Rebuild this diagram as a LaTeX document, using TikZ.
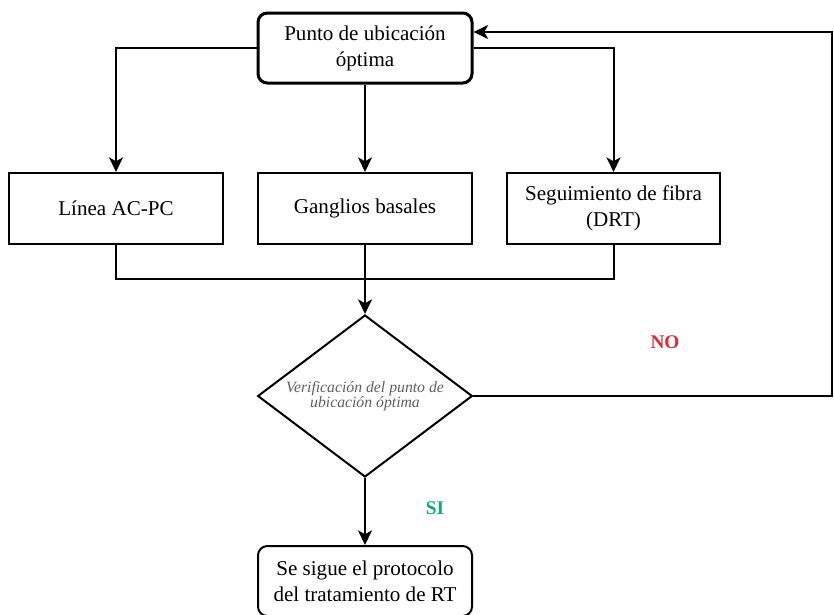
\documentclass[tikz,border=0pt]{standalone}
\usepackage{fontspec}
\setmainfont{Liberation Serif}
\usepackage{tikz}
\usetikzlibrary{arrows.meta, positioning, shapes.geometric, calc}
\definecolor{rojono}{RGB}{214, 45, 60}
\definecolor{verdesi}{RGB}{20, 165, 130}
\definecolor{grisdiam}{RGB}{95, 95, 95}

\begin{document}
\begin{tikzpicture}[x=0.75pt, y=-0.75pt, font=\fontsize{15.8}{19.5}\selectfont,
  caja/.style={draw, line width=1.5pt, minimum width=160.5pt, minimum height=53.25pt, align=center, inner sep=2pt},
  cajaredonda/.style={caja, rounded corners=7pt},
  decision/.style={draw, diamond, aspect=1.33, line width=1.5pt, minimum width=161pt, minimum height=121.5pt,
                   inner sep=0pt, align=center, text=grisdiam, font=\fontsize{11.8}{10.5}\selectfont\itshape},
  etiqueta/.style={font=\fontsize{14.5}{16}\selectfont\bfseries},
  flecha/.style={line width=1.5pt, -{Stealth[length=11pt, width=10.5pt, inset=3pt]}},
  linea/.style={line width=1.5pt}]

  \useasboundingbox (0,0) rectangle (834,614);

  \node[cajaredonda, line width=2.25pt, minimum height=52.5pt] (optimo) at (365,48) {Punto de ubicación\\óptima};

  \node[caja] (acpc) at (116,208.5) {Línea AC-PC};
  \node[caja] (ganglios) at (365,208.5) {Ganglios basales};
  \node[caja, minimum width=159.75pt] (fibra) at (613.5,208.5) {Seguimiento de fibra\\(DRT)};

  \node[decision] (verif) at (365,396) {Verificación del punto de\\ubicación óptima};
  \node[cajaredonda, minimum height=52.5pt] (protocolo) at (365,581) {Se sigue el protocolo\\del tratamiento de RT};

  \coordinate (union) at (365,279);
  \coordinate (esquina) at (832,32);

  \draw[flecha] (optimo.west) -| (acpc.north);
  \draw[flecha] (optimo.south) -- (ganglios.north);
  \draw[flecha] (optimo.east) -| (fibra.north);

  \draw[linea] (acpc.south) |- (union) -| (fibra.south);
  \draw[flecha] (ganglios.south) -- (verif.north);

  \draw[flecha] (verif.south) -- (protocolo.north);
  \draw[flecha] (verif.east) -| (esquina) -- (optimo.east |- esquina);

  \node[etiqueta, text=rojono] (no) at (665,342) {NO};
  \node[etiqueta, text=verdesi] (si) at (435,508) {SI};

\end{tikzpicture}
\end{document}
